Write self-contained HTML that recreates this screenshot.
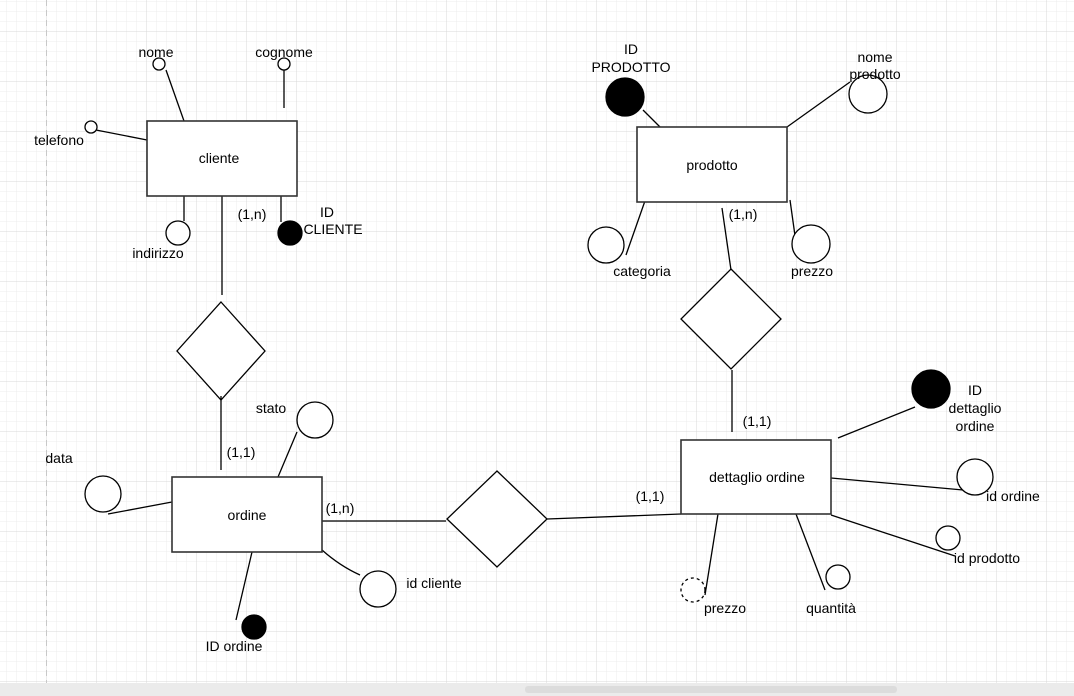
<!DOCTYPE html>
<html><head><meta charset="utf-8"><style>
html,body{margin:0;padding:0;background:#fff;}
svg{display:block;}
text{font-family:"Liberation Sans",Arial,sans-serif;font-size:14px;fill:#000;}
</style></head><body>
<svg width="1074" height="696" viewBox="0 0 1074 696" xmlns="http://www.w3.org/2000/svg">
<defs>
<pattern id="minor" x="6.5" y="2" width="10" height="10" patternUnits="userSpaceOnUse">
<path d="M10 0V10M0 10H10" stroke="#ececec" stroke-width="1" fill="none"/>
</pattern>
<pattern id="major" x="-3.5" y="-18" width="50" height="50" patternUnits="userSpaceOnUse">
<path d="M50 0V50M0 50H50" stroke="#d9d9d9" stroke-width="1" fill="none"/>
</pattern>
</defs>
<rect width="1074" height="696" fill="url(#minor)"/>
<rect width="1074" height="696" fill="url(#major)"/>
<line x1="46.5" y1="0" x2="46.5" y2="683" stroke="#c8c8c8" stroke-dasharray="6,4"/>
<rect x="0" y="683" width="1074" height="13" fill="#ebebeb"/>
<rect x="525" y="686" width="372" height="7" rx="3" fill="#dcdcdc"/>

<g stroke="#000" stroke-width="1.3" fill="#fff">
<line x1="166" y1="70" x2="184" y2="121"/>
<line x1="284" y1="70" x2="284" y2="108"/>
<line x1="96" y1="130" x2="147" y2="140"/>
<line x1="184" y1="196" x2="184" y2="221"/>
<line x1="281" y1="196" x2="281" y2="222"/>
<line x1="222" y1="196" x2="222" y2="295"/>
<rect x="147" y="121" width="150" height="75" stroke="#333" stroke-width="1.6"/>
<circle cx="159" cy="64" r="6"/>
<circle cx="284" cy="64" r="6"/>
<circle cx="91" cy="127" r="6"/>
<circle cx="178" cy="233" r="12"/>
<circle cx="290" cy="233" r="12" fill="#000"/>
<polygon points="221,302 265,351 221,400 177,351"/>
<line x1="221" y1="396" x2="221" y2="470"/>
<line x1="108" y1="514" x2="172" y2="502"/>
<line x1="297" y1="432" x2="278" y2="477"/>
<path d="M322 550 Q340 566 360 575" fill="none"/>
<line x1="252" y1="552" x2="236" y2="620"/>
<line x1="322" y1="521" x2="446" y2="521"/>
<line x1="547" y1="519" x2="681" y2="514"/>
<rect x="172" y="477" width="150" height="75" stroke="#333" stroke-width="1.6"/>
<circle cx="103" cy="494" r="18"/>
<circle cx="315" cy="420" r="18"/>
<circle cx="378" cy="589" r="18"/>
<circle cx="254" cy="627" r="12" fill="#000"/>
<polygon points="497,471 547,519 497,567 447,519"/>
<line x1="838" y1="438" x2="915" y2="407"/>
<line x1="831" y1="478" x2="985" y2="492"/>
<line x1="831" y1="515" x2="955" y2="556"/>
<line x1="718" y1="514" x2="705" y2="595"/>
<line x1="796" y1="514" x2="825" y2="590"/>
<line x1="732" y1="432" x2="732" y2="370"/>
<rect x="681" y="440" width="150" height="74" stroke="#333" stroke-width="1.6"/>
<circle cx="931" cy="389" r="19" fill="#000"/>
<circle cx="975" cy="477" r="18"/>
<circle cx="948" cy="538" r="12"/>
<circle cx="693" cy="590" r="12" stroke-dasharray="3,3"/>
<circle cx="838" cy="577" r="12"/>
<polygon points="731,269 781,319 731,369 681,319"/>
<line x1="731" y1="270" x2="722" y2="208"/>
<line x1="643" y1="110" x2="661" y2="128"/>
<line x1="787" y1="127" x2="850" y2="82"/>
<line x1="646" y1="198" x2="626" y2="255"/>
<line x1="790" y1="200" x2="797" y2="250"/>
<rect x="637" y="127" width="150" height="75" stroke="#333" stroke-width="1.6"/>
<circle cx="625" cy="97" r="19" fill="#000"/>
<circle cx="868" cy="94" r="19"/>
<circle cx="606" cy="245" r="18"/>
<circle cx="811" cy="244" r="19"/>
</g>

<g text-anchor="middle">
<text x="219" y="163">cliente</text>
<text x="156" y="57">nome</text>
<text x="284" y="57">cognome</text>
<text x="59" y="145">telefono</text>
<text x="158" y="258">indirizzo</text>
<text x="327" y="217">ID</text>
<text x="333" y="234">CLIENTE</text>
<text x="252" y="219">(1,n)</text>
<text x="241" y="457">(1,1)</text>
<text x="247" y="520">ordine</text>
<text x="59" y="463">data</text>
<text x="271" y="413">stato</text>
<text x="340" y="513">(1,n)</text>
<text x="434" y="588">id cliente</text>
<text x="234" y="651">ID ordine</text>
<text x="650" y="501">(1,1)</text>
<text x="757" y="482">dettaglio ordine</text>
<text x="975" y="395">ID</text>
<text x="975" y="413">dettaglio</text>
<text x="975" y="431">ordine</text>
<text x="1013" y="501">id ordine</text>
<text x="987" y="563">id prodotto</text>
<text x="725" y="613">prezzo</text>
<text x="831" y="613">quantità</text>
<text x="757" y="426">(1,1)</text>
<text x="743" y="219">(1,n)</text>
<text x="712" y="170">prodotto</text>
<text x="631" y="54">ID</text>
<text x="631" y="72">PRODOTTO</text>
<text x="875" y="62">nome</text>
<text x="875" y="79">prodotto</text>
<text x="642" y="276">categoria</text>
<text x="812" y="276">prezzo</text>
</g>
</svg>
</body></html>
